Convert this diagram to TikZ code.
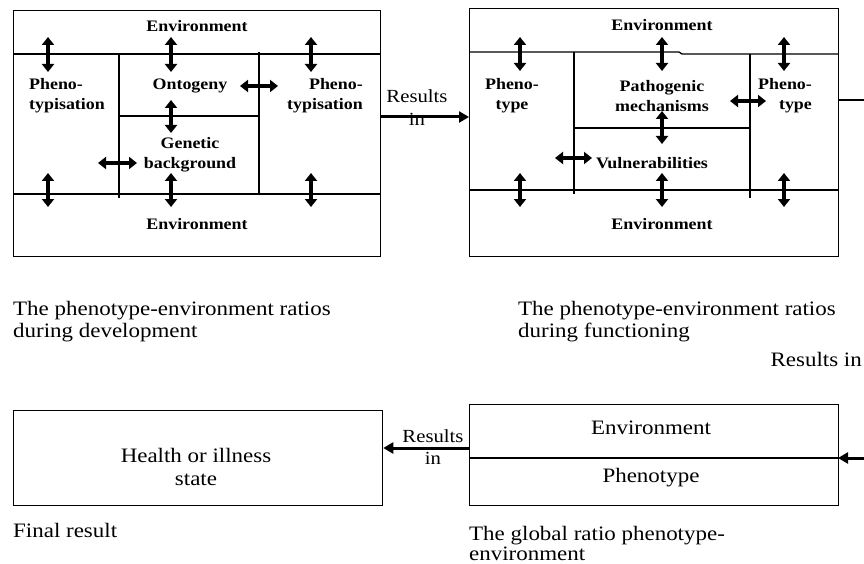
\documentclass[tikz,border=0pt]{standalone}
\usepackage{fontspec}
\setmainfont{Liberation Serif}[FakeStretch=1.12]
\usetikzlibrary{arrows.meta}
\tikzset{
  box/.style={draw, line width=1.3pt, inner sep=0pt, anchor=north west},
  sepline/.style={line width=1.3pt},
  dbl/.style={line width=3.4pt, {Triangle[length=8pt,width=12pt]}-{Triangle[length=8pt,width=12pt]}},
  res/.style={line width=3pt, -{Triangle[length=10pt,width=11pt]}},
  small/.style={font=\fontsize{16}{20}\selectfont\bfseries, align=center, inner sep=0pt},
  big/.style={font=\fontsize{20.5}{23}\selectfont, align=center, inner sep=0pt},
  capt/.style={font=\fontsize{20.5}{22}\selectfont, align=left, inner sep=0pt, anchor=west},
}
\begin{document}
\begin{tikzpicture}[x=1pt,y=-1pt]
\useasboundingbox (0,0) rectangle (864,564);
% ---------- development box ----------
\node[box, minimum width=367pt, minimum height=246pt] (dev) at (13,10) {};
\draw[sepline] (13,54) -- (380,54);
\draw[sepline] (13,194) -- (380,194);
\draw[sepline] (119,54) -- (119,198);
\draw[sepline] (259,52) -- (259,194);
\draw[sepline] (119,116) -- (259,116);
\node[small] (denvt) at (197,26) {Environment};
\node[small] (denvb) at (197,224) {Environment};
\node[small, align=left] (dphl) at (67,96) {Pheno-\\typisation};
\node[small] (donto) at (190,86) {Ontogeny};
\node[small, align=right] (dphr) at (325,96) {Pheno-\\typisation};
\node[small] (dgen) at (190,155) {Genetic\\background};
\foreach \x in {48,171,311} {
  \draw[dbl] (\x,37) -- (\x,72);
  \draw[dbl] (\x,173) -- (\x,207);
}
\draw[dbl] (171,100) -- (171,133);
\draw[dbl] (240,86) -- (278,86);
\draw[dbl] (98,163) -- (137,163);
% ---------- results in (top) ----------
\node[big, font=\fontsize{18.5}{23}\selectfont] (r1) at (417,108) {Results\\in};
% ---------- functioning box ----------
\node[box, minimum width=369pt, minimum height=248pt] (fun) at (469,8) {};
\draw[res] (dev.east |- 0,117) -- (fun.west |- 0,117);
\draw[sepline] (469,52) -- (679,52) -- (682,54) -- (838,54);
\draw[sepline] (469,190) -- (838,190);
\draw[sepline] (574,52) -- (574,194);
\draw[sepline] (750,54) -- (750,198);
\draw[sepline] (574,128) -- (750,128);
\node[small] (fenvt) at (662,25) {Environment};
\node[small] (fenvb) at (662,224) {Environment};
\node[small] (fphl) at (512,96) {Pheno-\\type};
\node[small] (fpat) at (662,96) {Pathogenic\\mechanisms};
\node[small, align=right] (fphr) at (785,96) {Pheno-\\type};
\node[small] (fvul) at (652,163) {Vulnerabilities};
\foreach \x in {520,662,784} {
  \draw[dbl] (\x,37) -- (\x,71);
  \draw[dbl] (\x,173) -- (\x,207);
}
\draw[dbl] (662,111) -- (662,144);
\draw[dbl] (730,101) -- (766,101);
\draw[dbl] (555,158) -- (592,158);
% ---------- captions ----------
\node[capt] (c1) at (13,322) {The phenotype-environment ratios\\during development};
\node[capt] (c2) at (518,322) {The phenotype-environment ratios\\during functioning};
\node[capt, anchor=east] (c3) at (862,359) {Results in};
% ---------- global box ----------
\node[box, minimum width=369pt, minimum height=101pt] (glob) at (469,404) {};
\draw[sepline] (469,458) -- (838,458);
\node[big] (genv) at (651,428) {Environment};
\node[big] (gphe) at (651,478) {Phenotype};
\coordinate (fo1) at (838,100);
\coordinate (fo2) at (880,100);
\coordinate (fo3) at (880,458);
\coordinate (gin) at (838,458);
\draw[sepline] (fo1) -- (fo2) -- (fo3);
\draw[res] (fo3) -- (gin);
% ---------- final box ----------
\node[box, minimum width=369pt, minimum height=95pt] (fin) at (13,410) {};
\node[big] (health) at (196,467) {Health or illness\\state};
\node[big, font=\fontsize{18.5}{22}\selectfont] (r2) at (433,447) {Results\\in};
\draw[res] (glob.west |- 0,448) -- (fin.east |- 0,448);
\node[capt] (c4) at (13,530) {Final result};
\node[capt, font=\fontsize{20.5}{20}\selectfont] (c5) at (469,543) {The global ratio phenotype-\\environment};
\end{tikzpicture}
\end{document}
